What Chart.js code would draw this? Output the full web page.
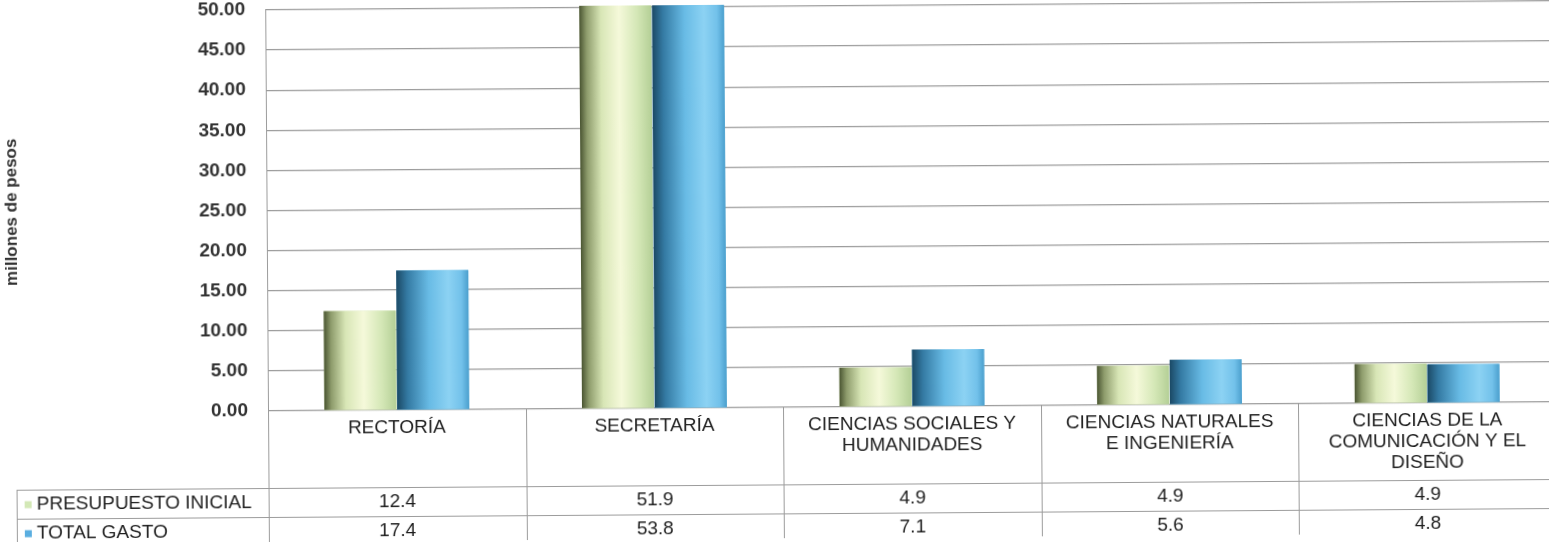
<!DOCTYPE html>
<html>
<head>
<meta charset="utf-8">
<script src="https://cdn.jsdelivr.net/npm/chart.js@4.4.1/dist/chart.umd.min.js"></script>
<style>
  html, body { margin: 0; padding: 0; background: #fff; overflow: hidden; }
  #wrap {
    position: relative;
    width: 1556px;
    height: 542px;
    transform: rotate(-0.4deg);
    transform-origin: 268px 410px;
  }
</style>
</head>
<body>
<div id="wrap"><canvas id="chart"></canvas></div>
<script>
const categories = [
  ["RECTORÍA"],
  ["SECRETARÍA"],
  ["CIENCIAS SOCIALES Y", "HUMANIDADES"],
  ["CIENCIAS NATURALES", "E INGENIERÍA"],
  ["CIENCIAS DE LA", "COMUNICACIÓN Y EL", "DISEÑO"],
];
const presupuestoInicial = [12.4, 51.9, 4.9, 4.9, 4.9];
const totalGasto = [17.4, 53.8, 7.1, 5.6, 4.8];
const seriesNames = ["PRESUPUESTO INICIAL", "TOTAL GASTO"];

const FONT = "'Liberation Sans', Arial, sans-serif";
const LINE = "#9c9c9c";

const greenStops = [
  [0, "#4a5532"], [0.1, "#8e9c6c"], [0.3, "#d8e6b6"],
  [0.55, "#f5f9da"], [0.8, "#d4e7b6"], [1, "#b4cf96"],
];
const blueStops = [
  [0, "#1b4965"], [0.15, "#347aa3"], [0.45, "#68bbe5"],
  [0.72, "#8cd2f3"], [0.9, "#72c1ea"], [1, "#4b9fcd"],
];

// shade the bars like cylinders, using the positions the library computed
const cylinderPlugin = {
  id: "cylinder",
  afterDatasetsDraw(chart) {
    const { ctx, chartArea } = chart;
    ctx.save();
    ctx.beginPath();
    ctx.rect(chartArea.left, chartArea.top - 2, chartArea.width, chartArea.height + 2);
    ctx.clip();
    chart.data.datasets.forEach((ds, di) => {
      const stops = di === 0 ? greenStops : blueStops;
      chart.getDatasetMeta(di).data.forEach((bar) => {
        const { x, y, base, width } = bar.getProps(["x", "y", "base", "width"], true);
        const l = x - width / 2;
        const g = ctx.createLinearGradient(l, 0, l + width, 0);
        stops.forEach(([o, c]) => g.addColorStop(o, c));
        ctx.fillStyle = g;
        const top = Math.max(y, chartArea.top - 2);
        ctx.fillRect(l, top, width, base - top);
      });
    });
    ctx.restore();
  },
};

// data table under the plot
const tablePlugin = {
  id: "dataTable",
  afterDraw(chart) {
    const { ctx, chartArea } = chart;
    const xs = chart.scales.x;
    const n = categories.length;
    const colW = xs.width / n;
    const headTop = chartArea.bottom;
    const headBottom = headTop + 77;
    const rowH = 29;
    const rowsBottom = headBottom + rowH * 2;
    const tableLeft = 16;

    ctx.save();
    ctx.strokeStyle = LINE;
    ctx.lineWidth = 1;
    ctx.beginPath();
    for (let i = 0; i <= n; i++) {
      const bx = Math.round(xs.left + colW * i) + 0.5;
      ctx.moveTo(bx, headTop);
      ctx.lineTo(bx, rowsBottom);
    }
    [headBottom, headBottom + rowH, rowsBottom].forEach((yy) => {
      ctx.moveTo(tableLeft, Math.round(yy) + 0.5);
      ctx.lineTo(chartArea.right, Math.round(yy) + 0.5);
    });
    ctx.moveTo(tableLeft + 0.5, headBottom);
    ctx.lineTo(tableLeft + 0.5, rowsBottom);
    ctx.stroke();

    ctx.fillStyle = "#1e1e1e";
    ctx.textAlign = "center";
    ctx.textBaseline = "middle";
    ctx.font = "19px " + FONT;
    categories.forEach((lines, i) => {
      const cx = xs.getPixelForValue(i);
      lines.forEach((t, k) => ctx.fillText(t, cx, headTop + 18 + k * 21));
    });

    const rowData = [presupuestoInicial, totalGasto];
    const colors = ["#d3e8b6", "#5aaee0"];
    rowData.forEach((vals, r) => {
      const cy = headBottom + rowH * r + rowH / 2;
      ctx.textAlign = "center";
      vals.forEach((v, i) => {
        ctx.fillText(v.toFixed(1), xs.getPixelForValue(i), cy);
      });
      ctx.fillStyle = colors[r];
      ctx.fillRect(tableLeft + 8, cy - 3, 7, 7);
      ctx.fillStyle = "#1e1e1e";
      ctx.textAlign = "left";
      ctx.fillText(seriesNames[r], tableLeft + 20, cy);
    });
    ctx.restore();
  },
};

new Chart(document.getElementById("chart"), {
  type: "bar",
  data: {
    labels: categories,
    datasets: [
      {
        label: seriesNames[0],
        data: presupuestoInicial,
        backgroundColor: "#d8e8bc",
        categoryPercentage: 0.565,
        barPercentage: 0.99,
      },
      {
        label: seriesNames[1],
        data: totalGasto,
        backgroundColor: "#6cbde6",
        categoryPercentage: 0.565,
        barPercentage: 0.99,
      },
    ],
  },
  options: {
    responsive: true,
    maintainAspectRatio: false,
    animation: false,
    layout: { padding: { top: 0, right: 0, bottom: 131, left: 0 } },
    plugins: {
      legend: { display: false },
      tooltip: { enabled: false },
    },
    scales: {
      x: { display: false },
      y: {
        min: 0,
        max: 50,
        ticks: {
          stepSize: 5,
          padding: 0,
          color: "#333",
          font: { family: FONT, size: 19, weight: "bold", lineHeight: 1.05 },
          callback: (v) => v.toFixed(2),
        },
        grid: {
          color: LINE,
          lineWidth: 1.2,
          drawTicks: true,
          tickLength: 20,
          tickColor: "rgba(0,0,0,0)",
        },
        border: { display: true, color: LINE },
        title: {
          display: true,
          text: "millones de pesos",
          color: "#333",
          font: { family: FONT, size: 17, weight: "bold" },
          padding: { top: 3, bottom: 0 },
        },
        afterFit: (s) => { s.width = 268; },
      },
    },
  },
  plugins: [cylinderPlugin, tablePlugin],
});
</script>
</body>
</html>
